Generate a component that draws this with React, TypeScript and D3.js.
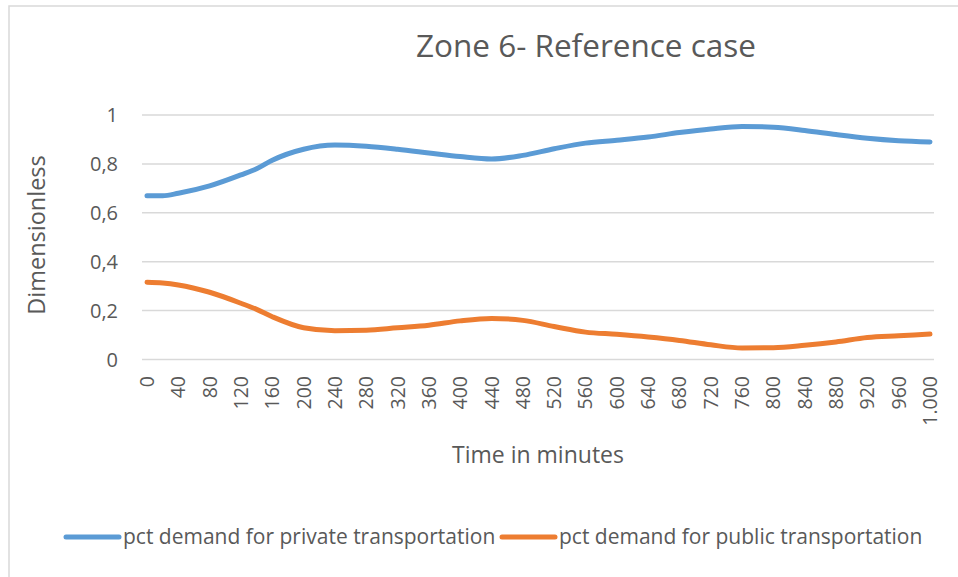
import React from "react";
import * as d3 from "d3";

const minutes = [0, 20, 40, 80, 120, 140, 160, 200, 240, 280, 320, 360, 400, 440, 480, 520, 560, 600, 640, 680, 720, 760, 800, 840, 880, 920, 960, 1000];
const privateShare = [0.67, 0.67, 0.68, 0.71, 0.755, 0.78, 0.815, 0.86, 0.877, 0.872, 0.86, 0.845, 0.83, 0.82, 0.835, 0.862, 0.885, 0.897, 0.91, 0.928, 0.943, 0.953, 0.95, 0.937, 0.92, 0.905, 0.895, 0.89];
const publicShare = [0.316, 0.313, 0.305, 0.275, 0.23, 0.205, 0.175, 0.13, 0.118, 0.12, 0.13, 0.14, 0.158, 0.168, 0.16, 0.135, 0.112, 0.103, 0.092, 0.078, 0.06, 0.047, 0.048, 0.058, 0.072, 0.09, 0.097, 0.104];
const xTicks = d3.range(0, 1001, 40);
const yTicks = [0, 0.2, 0.4, 0.6, 0.8, 1];
const seriesNames = ["pct demand for private transportation", "pct demand for public transportation"];
const colors = ["#5B9BD5", "#ED7D31"];

const W = 958;
const H = 577;
const font = "'Open Sans', 'Liberation Sans', sans-serif";
const textColor = "#595959";

export default function App() {
  const svgRef = React.useRef<SVGSVGElement | null>(null);

  React.useEffect(() => {
    const svg = d3.select(svgRef.current);
    svg.selectAll("*").remove();

    const x = d3.scaleLinear().domain([0, 1000]).range([147, 930]);
    const y = d3.scaleLinear().domain([0, 1]).range([359.5, 115]);

    // chart frame
    svg.append("rect")
      .attr("x", 9).attr("y", 6).attr("width", W + 20).attr("height", H + 20)
      .attr("fill", "white").attr("stroke", "#D9D9D9").attr("stroke-width", 1.5);

    svg.append("text")
      .attr("x", 586).attr("y", 57)
      .attr("text-anchor", "middle")
      .style("font-family", font).style("font-size", "31.5px").style("fill", textColor)
      .text("Zone 6- Reference case");

    // gridlines
    svg.append("g")
      .selectAll("line")
      .data(yTicks)
      .join("line")
      .attr("x1", 142).attr("x2", 934)
      .attr("y1", (d) => y(d)).attr("y2", (d) => y(d))
      .attr("stroke", "#D9D9D9").attr("stroke-width", 1.5);

    svg.append("g")
      .selectAll("text")
      .data(yTicks)
      .join("text")
      .attr("x", 118).attr("y", (d) => y(d) + 7)
      .attr("text-anchor", "end")
      .style("font-family", font).style("font-size", "20px").style("fill", textColor)
      .text((d) => d3.format("")(d).replace(".", ","));

    svg.append("g")
      .selectAll("text")
      .data(xTicks)
      .join("text")
      .attr("transform", (d) => `translate(${x(d) + 7},376) rotate(-90)`)
      .attr("text-anchor", "end")
      .style("font-family", font).style("font-size", "19.5px").style("fill", textColor)
      .text((d) => (d >= 1000 ? d3.format(",")(d).replace(",", ".") : String(d)));

    svg.append("text")
      .attr("transform", "translate(45,235) rotate(-90)")
      .attr("text-anchor", "middle")
      .style("font-family", font).style("font-size", "23.5px").style("fill", textColor)
      .text("Dimensionless");

    svg.append("text")
      .attr("x", 538).attr("y", 463)
      .attr("text-anchor", "middle")
      .style("font-family", font).style("font-size", "23px").style("fill", textColor)
      .text("Time in minutes");

    const line = d3.line<[number, number]>()
      .x((d) => x(d[0]))
      .y((d) => y(d[1]))
      .curve(d3.curveMonotoneX);

    [privateShare, publicShare].forEach((vals, i) => {
      svg.append("path")
        .datum(minutes.map((m, j) => [m, vals[j]] as [number, number]))
        .attr("d", line)
        .attr("fill", "none")
        .attr("stroke", colors[i])
        .attr("stroke-width", 5)
        .attr("stroke-linecap", "round")
        .attr("stroke-linejoin", "round");
    });

    // legend
    const legendX = [66, 502];
    seriesNames.forEach((name, i) => {
      const g = svg.append("g").attr("transform", `translate(${legendX[i]},537)`);
      g.append("line")
        .attr("x1", 0).attr("x2", 53).attr("y1", 0).attr("y2", 0)
        .attr("stroke", colors[i]).attr("stroke-width", 5).attr("stroke-linecap", "round");
      g.append("text")
        .attr("x", 57).attr("y", 7)
        .style("font-family", font).style("font-size", "21px").style("fill", textColor)
        .text(name);
    });
  }, []);

  return (
    <svg ref={svgRef} width={W} height={H} style={{ position: "absolute", left: 0, top: 0 }} />
  );
}
